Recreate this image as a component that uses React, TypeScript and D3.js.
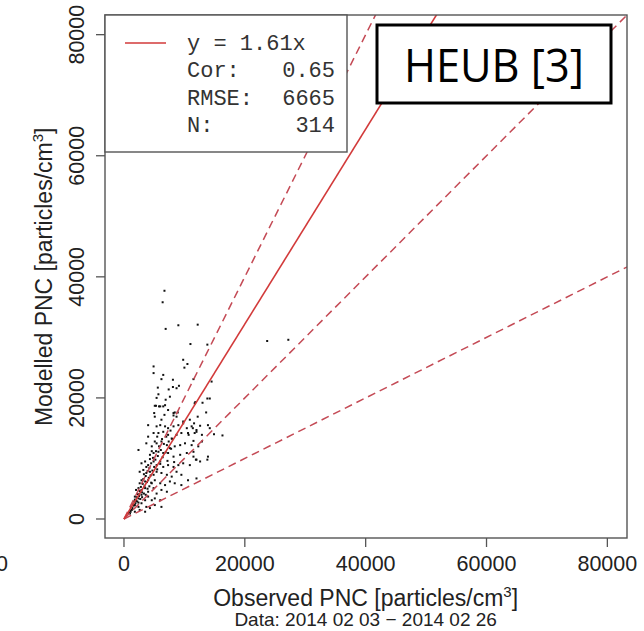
import React from "react";
import * as d3 from "d3";

// ---- data (particles/cm^3) ----
const xTicks = [0, 20000, 40000, 60000, 80000];
const yTicks = [0, 20000, 40000, 60000, 80000];
const fitSlope = 1.61;
const refSlopes = [2, 1, 0.5];
const legendLines = [
  ["Cor:", "0.65"],
  ["RMSE:", "6665"],
  ["N:", "314"],
];
const stationLabel = "HEUB [3]";
const dateRange = "Data: 2014 02 03 \u2212 2014 02 26";
const neighbourTickLabel = "0"; // cut-off tick label of the neighbouring panel

// observed / modelled pairs, in thousand particles/cm^3
const observedK = [
  6.7, 6.4, 6.9, 9.0, 12.2, 23.7, 27.2, 11.0, 13.8, 9.8, 10.5, 10.0, 4.9, 4.9, 6.5, 6.2, 8.1, 11.5, 14.5, 5.6, 7.4, 8.1, 8.7, 9.1, 5.7, 7.6, 5.4, 6.9, 13.8, 14.2, 11.7,
  5.3, 6.0, 6.5, 8.4, 8.9, 5.0, 8.2, 11.8, 13.0, 13.6, 12.2, 11.6, 10.9, 9.8, 13.9, 14.2, 14.9, 16.3, 12.6, 11.4, 12.0, 10.7, 11.9, 13.8, 12.9, 11.5, 11.5,
  5.1, 5.8, 6.8, 7.3, 6.7, 8.2, 8.7, 5.1, 6.2, 4.0, 5.4, 6.0, 6.8, 7.3, 8.2, 9.0, 9.8, 10.4, 11.2, 12.0,
  4.0, 4.9, 5.7, 6.5, 7.3, 7.9, 8.7, 9.5, 10.6, 11.7, 12.9,
  2.4, 3.7, 4.6, 5.4, 6.2, 7.1, 7.6, 8.4, 9.3, 10.1, 11.2, 12.3,
  4.3, 4.9, 5.7, 6.5, 7.3, 8.2, 9.3, 10.4, 11.5, 12.0,
  2.9, 3.5, 4.0, 4.9, 5.4, 6.0, 6.5, 7.3, 8.2, 9.0, 9.8, 10.9, 12.6, 13.9,
  2.6, 3.2, 3.7, 4.3, 4.9, 5.4, 6.2, 7.1, 7.9, 8.7, 9.5, 10.6, 12.0,
  2.9, 3.5, 4.0, 4.6, 5.1, 6.0, 6.8, 7.6, 8.4, 9.5,
  2.4, 2.9, 3.5, 4.0, 4.9, 5.4, 6.2, 7.1,
  1.8, 2.4, 2.9, 3.5, 4.0, 4.6, 5.1, 6.0,
  1.8, 2.4, 2.9, 3.7, 4.3, 5.1, 6.2,
  1.3, 1.8, 2.6, 3.5, 1.0,
  1.5, 1.7, 2.0, 2.1, 2.3, 2.5, 2.6, 2.8, 3.0, 3.1, 3.2, 3.4, 3.6, 3.8, 3.9, 4.1, 4.2, 4.4, 4.5, 4.7, 4.8, 5.0, 5.2, 5.3, 5.5, 5.6, 5.8, 6.0, 6.1, 6.3, 6.4, 6.6, 6.9, 7.0, 7.2, 7.4, 7.7, 7.8, 8.0, 8.3,
  1.2, 1.4, 1.9, 2.2, 2.4, 2.7, 3.0, 3.3, 3.6, 3.9, 4.2, 4.5, 2.0, 2.6, 3.3, 3.7, 4.3, 4.6, 5.1, 5.5, 1.0, 0.8, 1.1, 1.6, 1.8,
];
const modelledK = [
  37.7, 35.8, 31.4, 32.0, 32.1, 29.4, 29.6, 28.9, 28.8, 26.3, 25.6, 25.0, 25.2, 24.1, 23.8, 23.1, 23.0, 23.1, 22.7, 21.7, 21.4, 21.8, 21.6, 22.0, 20.6, 20.2, 20.0, 19.7, 19.9, 19.9, 19.1,
  18.7, 18.6, 18.6, 17.6, 17.6, 17.5, 17.1, 19.3, 19.2, 17.6, 16.9, 15.8, 16.4, 16.1, 15.5, 15.0, 14.0, 13.8, 15.4, 15.0, 14.4, 13.9, 9.8, 9.8, 12.8, 12.9, 11.1,
  18.7, 18.6, 18.8, 18.0, 17.2, 17.5, 16.9, 16.9, 16.4, 15.5, 15.3, 15.5, 15.3, 15.0, 15.3, 15.5, 15.8, 15.0, 15.3, 14.7,
  13.6, 14.2, 14.2, 14.4, 13.9, 13.3, 13.9, 14.2, 14.2, 14.2, 13.9,
  11.4, 12.5, 12.0, 12.5, 12.8, 12.2, 11.7, 12.0, 12.2, 12.5, 12.2, 12.0,
  10.6, 10.9, 11.1, 10.9, 10.9, 10.3, 10.6, 10.9, 10.3, 9.8,
  9.2, 9.5, 8.9, 9.5, 8.9, 9.5, 8.6, 8.9, 8.6, 8.9, 9.2, 8.9, 9.5, 10.3,
  7.8, 8.1, 7.6, 7.8, 7.3, 7.8, 7.6, 7.3, 7.0, 7.8, 7.3, 6.4, 6.7,
  6.4, 6.2, 6.4, 5.9, 6.4, 5.9, 5.6, 6.2, 5.9, 5.6,
  5.1, 4.8, 5.1, 4.5, 5.1, 4.2, 4.8, 4.5,
  3.7, 3.4, 4.0, 3.1, 3.7, 3.1, 3.4, 3.1,
  2.3, 2.0, 2.6, 2.0, 1.8, 2.3, 2.0,
  1.5, 1.2, 1.5, 1.2, 0.9,
  2.4, 2.9, 3.0, 3.6, 4.1, 3.8, 4.6, 5.3, 4.4, 5.8, 6.6, 5.4, 7.1, 6.1, 7.9, 6.8, 8.4, 7.2, 9.2, 8.0, 10.1, 8.6, 9.8, 11.2, 8.2, 10.4, 12.0, 9.1, 11.4, 13.2, 10.2, 12.4, 11.0, 13.6, 9.6, 12.8, 14.6, 11.6, 13.2, 9.4,
  2.0, 1.8, 2.6, 2.9, 2.7, 3.3, 3.6, 4.2, 4.0, 5.0, 5.4, 6.0, 4.8, 5.9, 7.4, 8.6, 9.9, 11.2, 12.8, 13.6, 1.4, 1.0, 1.2, 2.2, 3.2,
];

const W = 644;
const H = 631;
const box = { left: 105, right: 627, top: 15, bottom: 538 };

export default function App() {
  const x = d3.scaleLinear().domain([-3140, 83250]).range([box.left, box.right]);
  const y = d3.scaleLinear().domain([-3140, 83250]).range([box.bottom, box.top]);
  const axisCol = "#555";
  const textCol = "#222";
  const sans = "'Liberation Sans', Arial, sans-serif";
  const mono = "'Liberation Mono', 'Courier New', monospace";
  const xEnd = 90000;
  const pts = observedK.map((o, i) => [o * 1000, modelledK[i] * 1000]);

  return (
    <svg width={W} height={H} style={{ position: "absolute", left: 0, top: 0, background: "#fff" }}>
      <defs>
        <clipPath id="plotclip">
          <rect x={box.left} y={box.top} width={box.right - box.left} height={box.bottom - box.top} />
        </clipPath>
      </defs>
      <rect x={0} y={0} width={W} height={H} fill="#fff" />

      <g clipPath="url(#plotclip)">
        {pts.map((p, i) => (
          <rect key={i} x={x(p[0]) - 1} y={y(p[1]) - 1} width={2} height={2} fill="#111" />
        ))}
        {refSlopes.map((s, i) => (
          <line key={i} x1={x(0)} y1={y(0)} x2={x(xEnd)} y2={y(xEnd * s)}
            stroke="#c44a55" strokeWidth={1.5} strokeDasharray="8,5" />
        ))}
        <line x1={x(0)} y1={y(0)} x2={x(xEnd)} y2={y(xEnd * fitSlope)} stroke="#d23a3a" strokeWidth={1.6} />
      </g>

      <rect x={box.left} y={box.top} width={box.right - box.left} height={box.bottom - box.top}
        fill="none" stroke={axisCol} strokeWidth={1.4} />

      {xTicks.map((t) => (
        <g key={t}>
          <line x1={x(t)} x2={x(t)} y1={box.bottom} y2={box.bottom + 9} stroke={axisCol} strokeWidth={1.3} />
          <text x={x(t)} y={570.5} textAnchor="middle" fontFamily={sans} fontSize={21.5} fill={textCol}>{t}</text>
        </g>
      ))}
      <text x={2} y={570.5} textAnchor="middle" fontFamily={sans} fontSize={21.5} fill={textCol}>{neighbourTickLabel}</text>
      {yTicks.map((t) => (
        <g key={t}>
          <line x1={box.left - 9} x2={box.left} y1={y(t)} y2={y(t)} stroke={axisCol} strokeWidth={1.3} />
          <text transform={`translate(84,${y(t)}) rotate(-90)`} textAnchor="middle" fontFamily={sans} fontSize={21.5} fill={textCol}>{t}</text>
        </g>
      ))}

      <text x={x(40000)} y={606} textAnchor="middle" fontFamily={sans} fontSize={23} fill={textCol}>
        Observed PNC [particles/cm<tspan fontSize={15} dy={-9}>3</tspan><tspan dy={9}>]</tspan>
      </text>
      <text x={x(40000)} y={626} textAnchor="middle" fontFamily={sans} fontSize={19} fill={textCol}>{dateRange}</text>
      <text transform={`translate(52,${y(40000)}) rotate(-90)`} textAnchor="middle" fontFamily={sans} fontSize={23} fill={textCol}>
        Modelled PNC [particles/cm<tspan fontSize={15} dy={-9}>3</tspan><tspan dy={9}>]</tspan>
      </text>

      {/* legend */}
      <rect x={box.left} y={box.top} width={242} height={137} fill="#fff" stroke={axisCol} strokeWidth={1.4} />
      <line x1={125} x2={166} y1={43} y2={43} stroke="#d23a3a" strokeWidth={1.6} />
      <text x={187} y={50} fontFamily={mono} fontSize={22} fill="#333">{`y = ${fitSlope}x`}</text>
      {legendLines.map((l, i) => (
        <g key={i}>
          <text x={187} y={77.3 + i * 27.2} fontFamily={mono} fontSize={22} fill="#333">{l[0]}</text>
          <text x={335} y={77.3 + i * 27.2} textAnchor="end" fontFamily={mono} fontSize={22} fill="#333">{l[1]}</text>
        </g>
      ))}

      {/* station label */}
      <rect x={377} y={25} width={234} height={78} fill="#fff" stroke="#000" strokeWidth={3} />
      <text x={494} y={82} textAnchor="middle" fontFamily="'Open Sans', 'Noto Sans', sans-serif" fontSize={46}
        textLength={180} lengthAdjust="spacingAndGlyphs" fill="#000">{stationLabel}</text>
    </svg>
  );
}
